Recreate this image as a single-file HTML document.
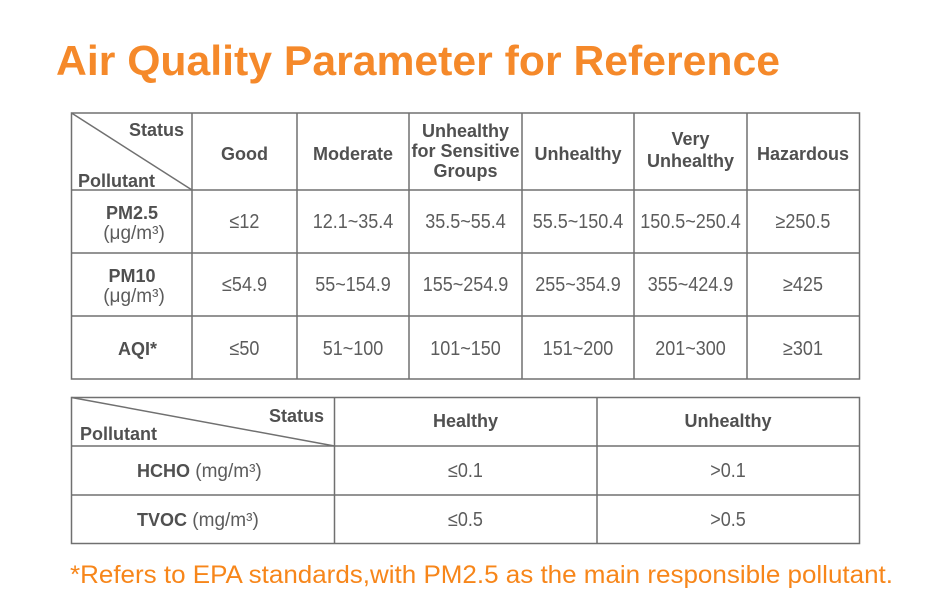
<!DOCTYPE html>
<html><head><meta charset="utf-8"><style>
html,body{margin:0;padding:0;background:#fff;}
svg{display:block;}
.h{font-family:"Liberation Sans",sans-serif;font-weight:bold;font-size:18px;fill:#505050;}
.v{font-family:"Liberation Sans",sans-serif;font-size:20px;fill:#5c5c5c;}
.u{font-family:"Liberation Sans",sans-serif;font-size:19px;fill:#5c5c5c;}
</style></head><body>
<svg width="943" height="609" viewBox="0 0 943 609" xmlns="http://www.w3.org/2000/svg">
<rect width="943" height="609" fill="#fff"/>
<text x="56" y="75" font-family="Liberation Sans, sans-serif" font-weight="bold" font-size="42" fill="#F5892A" textLength="724" lengthAdjust="spacingAndGlyphs">Air Quality Parameter for Reference</text>

<g stroke="#707070" stroke-width="1.5" fill="none">
<rect x="71.5" y="113" width="788" height="266"/>
<line x1="192" y1="113" x2="192" y2="379"/>
<line x1="297" y1="113" x2="297" y2="379"/>
<line x1="409" y1="113" x2="409" y2="379"/>
<line x1="522" y1="113" x2="522" y2="379"/>
<line x1="634" y1="113" x2="634" y2="379"/>
<line x1="747" y1="113" x2="747" y2="379"/>
<line x1="71.5" y1="190" x2="859.5" y2="190"/>
<line x1="71.5" y1="253" x2="859.5" y2="253"/>
<line x1="71.5" y1="316" x2="859.5" y2="316"/>
<line x1="71.5" y1="113" x2="192" y2="190"/>

<rect x="71.5" y="397.5" width="788" height="146"/>
<line x1="334.5" y1="397.5" x2="334.5" y2="543.5"/>
<line x1="597" y1="397.5" x2="597" y2="543.5"/>
<line x1="71.5" y1="446" x2="859.5" y2="446"/>
<line x1="71.5" y1="495" x2="859.5" y2="495"/>
<line x1="71.5" y1="397.5" x2="334.5" y2="446"/>
</g>

<!-- Table 1 header -->
<text class="h" x="184" y="136" text-anchor="end">Status</text>
<text class="h" x="78" y="187">Pollutant</text>
<text class="h" x="244.5" y="160" text-anchor="middle">Good</text>
<text class="h" x="353" y="160" text-anchor="middle">Moderate</text>
<text class="h" x="465.5" y="137" text-anchor="middle">Unhealthy</text>
<text class="h" x="465.5" y="157" text-anchor="middle">for Sensitive</text>
<text class="h" x="465.5" y="177" text-anchor="middle">Groups</text>
<text class="h" x="578" y="160" text-anchor="middle">Unhealthy</text>
<text class="h" x="690.5" y="145" text-anchor="middle">Very</text>
<text class="h" x="690.5" y="167" text-anchor="middle">Unhealthy</text>
<text class="h" x="803" y="160" text-anchor="middle">Hazardous</text>

<!-- Row labels -->
<text class="h" x="132" y="219" text-anchor="middle">PM2.5</text>
<text class="u" x="134" y="239" text-anchor="middle">(μg/m³)</text>
<text class="h" x="132" y="282" text-anchor="middle">PM10</text>
<text class="u" x="134" y="302" text-anchor="middle">(μg/m³)</text>
<text class="h" x="118" y="355">AQI*</text>

<!-- PM2.5 values -->
<g class="v" text-anchor="middle">
<text transform="translate(244.5,228) scale(0.9,1)">≤12</text>
<text transform="translate(353,228) scale(0.9,1)">12.1~35.4</text>
<text transform="translate(465.5,228) scale(0.9,1)">35.5~55.4</text>
<text transform="translate(578,228) scale(0.9,1)">55.5~150.4</text>
<text transform="translate(690.5,228) scale(0.9,1)">150.5~250.4</text>
<text transform="translate(803,228) scale(0.9,1)">≥250.5</text>

<text transform="translate(244.5,291) scale(0.9,1)">≤54.9</text>
<text transform="translate(353,291) scale(0.9,1)">55~154.9</text>
<text transform="translate(465.5,291) scale(0.9,1)">155~254.9</text>
<text transform="translate(578,291) scale(0.9,1)">255~354.9</text>
<text transform="translate(690.5,291) scale(0.9,1)">355~424.9</text>
<text transform="translate(803,291) scale(0.9,1)">≥425</text>

<text transform="translate(244.5,355) scale(0.9,1)">≤50</text>
<text transform="translate(353,355) scale(0.9,1)">51~100</text>
<text transform="translate(465.5,355) scale(0.9,1)">101~150</text>
<text transform="translate(578,355) scale(0.9,1)">151~200</text>
<text transform="translate(690.5,355) scale(0.9,1)">201~300</text>
<text transform="translate(803,355) scale(0.9,1)">≥301</text>
</g>

<!-- Table 2 -->
<text class="h" x="324" y="422" text-anchor="end">Status</text>
<text class="h" x="80" y="440">Pollutant</text>
<text class="h" x="465.5" y="427" text-anchor="middle">Healthy</text>
<text class="h" x="728" y="427" text-anchor="middle">Unhealthy</text>

<text x="137" y="477"><tspan class="h">HCHO</tspan><tspan class="u"> (mg/m³)</tspan></text>
<text x="137" y="526"><tspan class="h">TVOC</tspan><tspan class="u">  (mg/m³)</tspan></text>

<g class="v" text-anchor="middle">
<text transform="translate(465.5,477) scale(0.9,1)">≤0.1</text>
<text transform="translate(728,477) scale(0.9,1)">&gt;0.1</text>
<text transform="translate(465.5,526) scale(0.9,1)">≤0.5</text>
<text transform="translate(728,526) scale(0.9,1)">&gt;0.5</text>
</g>

<text x="70" y="583" font-family="Liberation Sans, sans-serif" font-size="25" fill="#F7861A" textLength="823" lengthAdjust="spacingAndGlyphs">*Refers to EPA standards,with PM2.5 as the main responsible pollutant.</text>
</svg>
</body></html>
